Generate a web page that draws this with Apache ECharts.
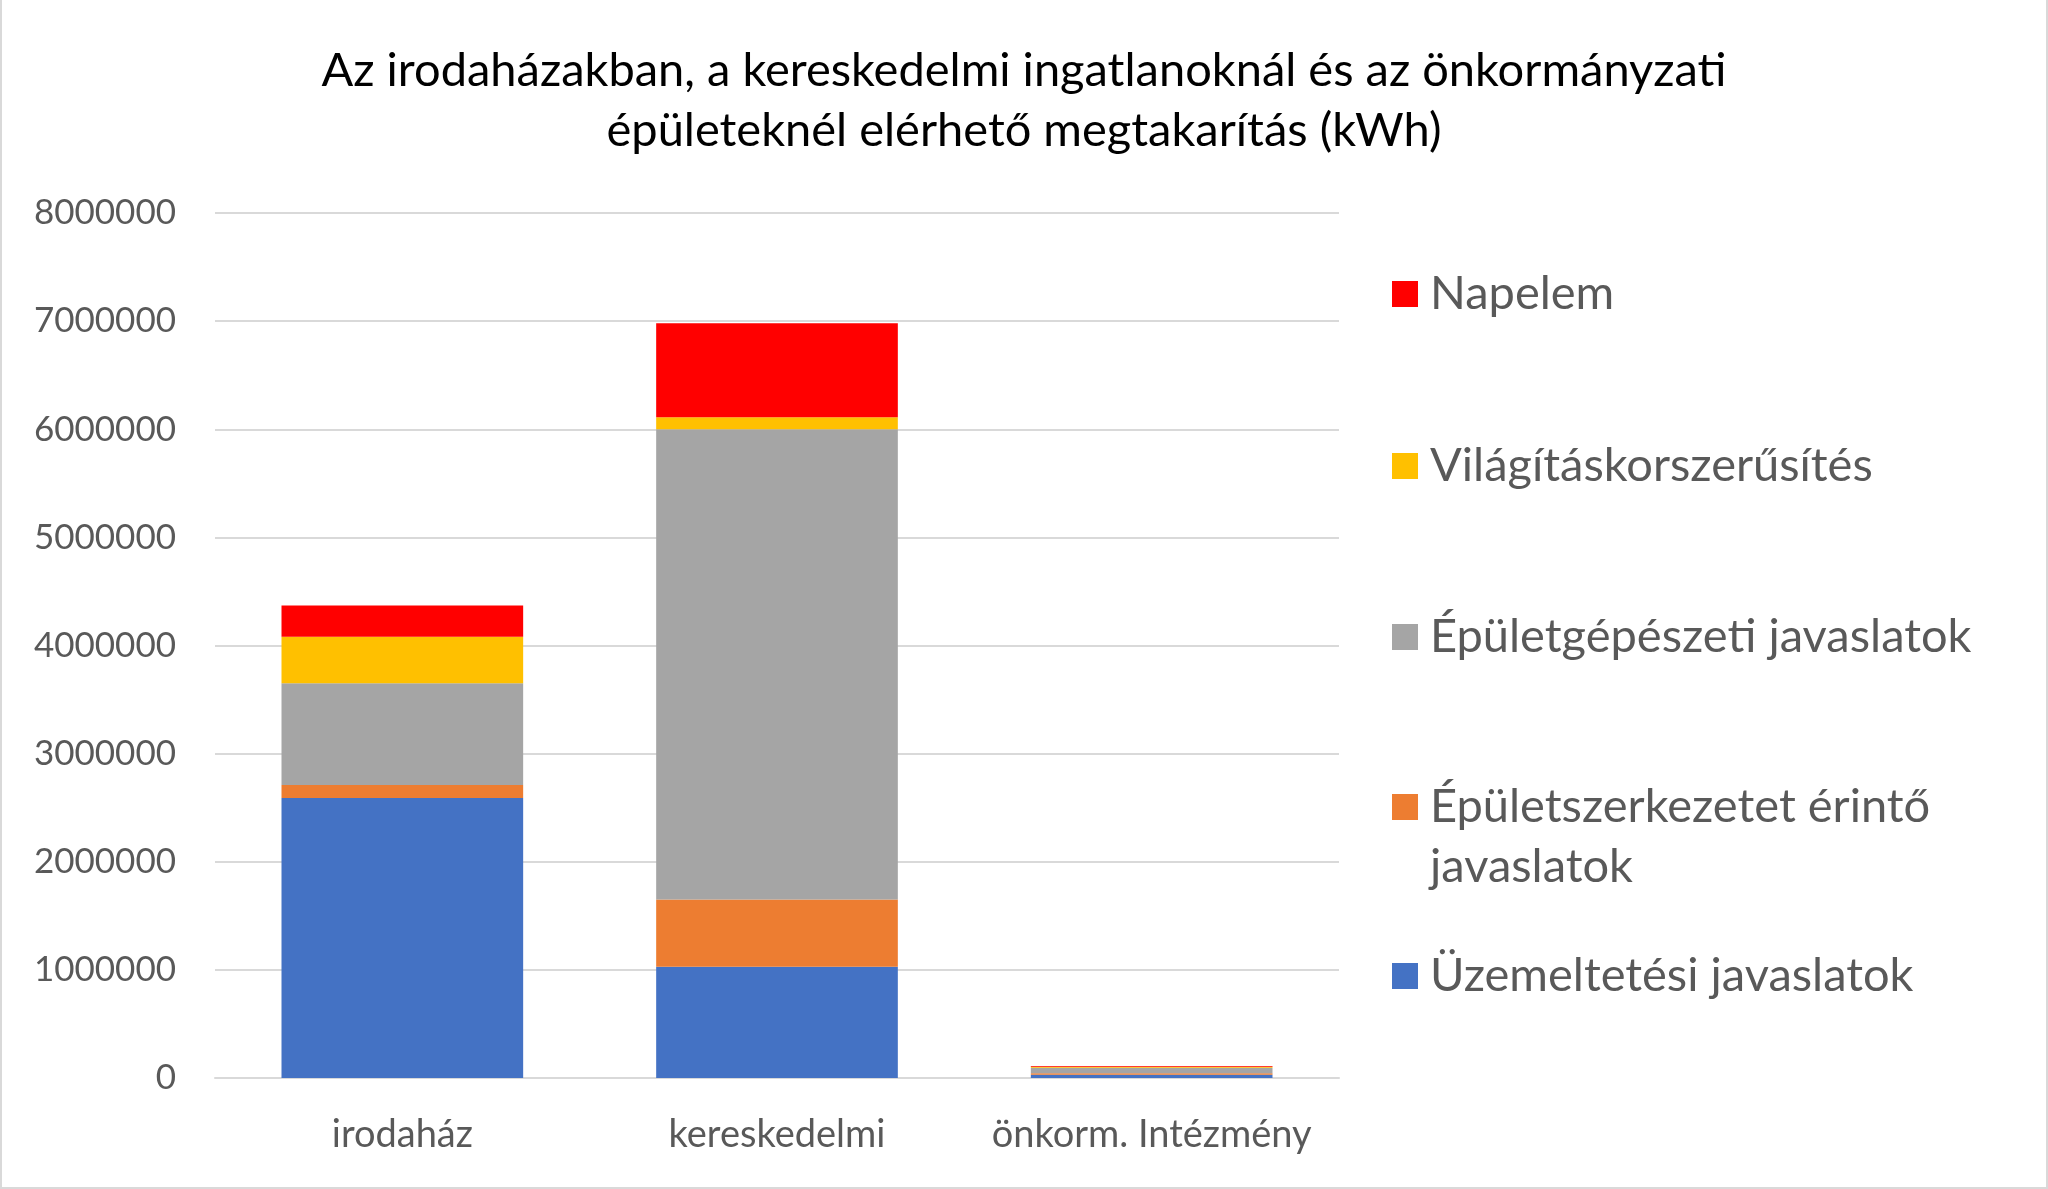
<!DOCTYPE html>
<html>
<head>
<meta charset="utf-8">
<script src="https://cdn.jsdelivr.net/npm/echarts@6/dist/echarts.min.js"></script>
<style>
  html, body { margin: 0; padding: 0; background: #fff; }
  #chart { width: 2048px; height: 1189px; box-sizing: border-box; border: 2px solid #d9d9d9; border-top: none; }
</style>
</head>
<body>
<div id="chart"></div>
<script>
// categories and series values (kWh)
const categories = ["irodaház", "kereskedelmi", "önkorm. Intézmény"];
const uzemeltetesi = [2590000, 1030000, 30000];
const szerkezet = [120000, 620000, 15000];
const gepeszet = [940000, 4350000, 50000];
const vilagitas = [430000, 110000, 8000];
const napelem = [290000, 870000, 7000];
const yTicks = [0, 1000000, 2000000, 3000000, 4000000, 5000000, 6000000, 7000000, 8000000];

const names = ["Üzemeltetési javaslatok", "Épületszerkezetet érintő javaslatok",
  "Épületgépészeti javaslatok", "Világításkorszerűsítés", "Napelem"];
const colors = ["#4472C4", "#ED7D31", "#A5A5A5", "#FFC000", "#FF0000"];
const values = [uzemeltetesi, szerkezet, gepeszet, vilagitas, napelem];

const font = "Lato";
const grey = "#595959";

// one legend per entry so the spacing can follow the original
const legendTops = [974, 805, 635, 464, 292];
function legendFor(i) {
  const multi = i === 1;
  return {
    data: [names[i]],
    orient: "vertical",
    left: 1385,
    // blank first line keeps the first text line level with the swatch
    top: multi ? legendTops[i] - 93 : legendTops[i] - 33,
    itemWidth: 26,
    itemHeight: 26,
    itemGap: 0,
    icon: "rect",
    selectedMode: false,
    formatter: multi ? "\nÉpületszerkezetet érintő\njavaslatok" : "{name}",
    textStyle: {
      fontFamily: font, fontSize: 47, color: grey, lineHeight: 60,
      padding: [0, 0, 0, 7]
    }
  };
}

const chart = echarts.init(document.getElementById("chart"));
chart.setOption({
  animation: false,
  title: {
    text: "Az irodaházakban, a kereskedelmi ingatlanoknál és az önkormányzati\népületeknél elérhető megtakarítás (kWh)",
    left: "center",
    top: 36,
    textStyle: { fontFamily: font, fontSize: 47, fontWeight: "normal", color: "#000", lineHeight: 60 }
  },
  legend: names.map((n, i) => legendFor(i)),
  grid: { left: 213, right: 707, top: 213, bottom: 109, containLabel: false },
  xAxis: {
    type: "category",
    data: categories,
    axisLine: { lineStyle: { color: "#d9d9d9", width: 2 } },
    axisTick: { show: false },
    axisLabel: { fontFamily: font, fontSize: 38, color: grey, margin: 38, interval: 0 }
  },
  yAxis: {
    type: "value",
    min: yTicks[0],
    max: yTicks[yTicks.length - 1],
    interval: 1000000,
    axisLine: { show: false },
    axisTick: { show: false },
    splitLine: { lineStyle: { color: "#d9d9d9", width: 2 } },
    axisLabel: { fontFamily: font, fontSize: 35, color: grey, margin: 39, formatter: v => String(v) }
  },
  series: names.map((n, i) => ({
    name: n,
    type: "bar",
    stack: "total",
    data: values[i],
    barWidth: "64.5%",
    itemStyle: { color: colors[i] }
  }))
});
</script>
</body>
</html>
